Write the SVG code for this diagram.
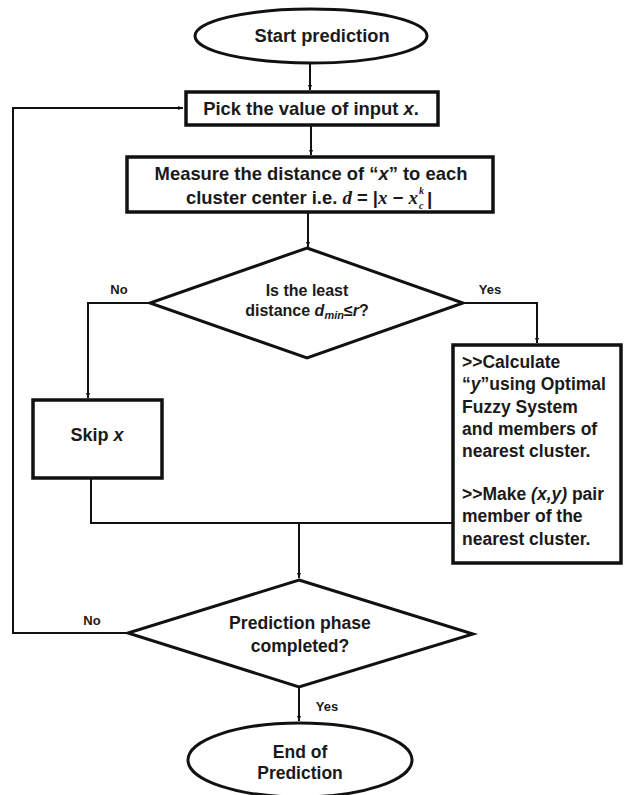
<svg xmlns="http://www.w3.org/2000/svg" width="624" height="795" viewBox="0 0 624 795">
<defs>
<marker id="arr" viewBox="0 0 10 10" refX="10" refY="5" markerWidth="5" markerHeight="5" orient="auto" markerUnits="userSpaceOnUse">
<path d="M0,1 L10,5 L0,9 z" fill="#111"/>
</marker>
<style>
.box{fill:#fff;stroke:#111;stroke-width:3.5}
.shape{fill:#fff;stroke:#111;stroke-width:3}
.line{fill:none;stroke:#111;stroke-width:2}
.t{font-family:"Liberation Sans",Arial,sans-serif;font-weight:bold;fill:#1a1a1a}
.c{text-anchor:middle}
.m{font-family:"Liberation Serif","Times New Roman",serif;font-style:italic;font-weight:bold;fill:#1a1a1a}
.lbl{font-size:13px}
</style>
</defs>
<rect width="624" height="795" fill="#fff"/>
<g id="connectors">
<path class="line" d="M310,63 V90" marker-end="url(#arr)"/>
<path class="line" d="M311,125 V155" marker-end="url(#arr)"/>
<path class="line" d="M308,212 V247" marker-end="url(#arr)"/>
<path class="line" d="M150,303 H88 V398" marker-end="url(#arr)"/>
<path class="line" d="M463,303 H537 V343" marker-end="url(#arr)"/>
<path class="line" d="M91,478 V523 H452"/>
<path class="line" d="M299,523 V578" marker-end="url(#arr)"/>
<path class="line" d="M128,633 H13 V108 H183" marker-end="url(#arr)"/>
<path class="line" d="M299,687 V721" marker-end="url(#arr)"/>
</g>
<g id="start">
<ellipse class="shape" cx="311" cy="36" rx="116" ry="27"/>
<text class="t c" x="322" y="42" font-size="18.3">Start prediction</text>
</g>
<g id="pick">
<rect class="box" x="186" y="92" width="252" height="33"/>
<text class="t c" x="311" y="115" font-size="18.4">Pick the value of input <tspan font-style="italic">x</tspan>.</text>
</g>
<g id="measure">
<rect class="box" x="127" y="157" width="366" height="55"/>
<text class="t c" x="311" y="180" font-size="18.4">Measure the distance of “<tspan font-style="italic">x</tspan>” to each</text>
<text class="t" x="186" y="204" font-size="18.4">cluster center i.e. <tspan class="m" font-size="19">d</tspan> = |<tspan class="m" font-size="19">x</tspan> − <tspan class="m" font-size="19">x</tspan></text>
<text class="m" x="419" y="194" font-size="10">k</text>
<text class="m" x="419" y="209" font-size="10">c</text>
<text class="t" x="427" y="205" font-size="19">|</text>
</g>
<g id="decision1">
<polygon class="shape" points="307,248 463,303 307,358 150,303"/>
<text class="t c" x="307" y="296" font-size="16">Is the least</text>
<text class="t c" x="307" y="316" font-size="16">distance <tspan font-style="italic">d</tspan><tspan font-style="italic" font-size="11" dy="3">min</tspan><tspan dy="-3">≤</tspan><tspan font-style="italic">r</tspan>?</text>
<text class="t c lbl" x="119" y="294">No</text>
<text class="t c lbl" x="490" y="294">Yes</text>
</g>
<g id="skip">
<rect class="box" x="33" y="400" width="129" height="78"/>
<text class="t c" x="97" y="441" font-size="18">Skip <tspan font-style="italic">x</tspan></text>
</g>
<g id="calculate">
<rect class="box" x="453" y="345" width="168" height="218"/>
<text class="t" font-size="17.5">
<tspan x="462" y="368">&gt;&gt;Calculate</tspan>
<tspan x="462" y="390">“<tspan font-style="italic">y</tspan>”using Optimal</tspan>
<tspan x="462" y="413">Fuzzy System</tspan>
<tspan x="462" y="435">and members of</tspan>
<tspan x="462" y="457">nearest cluster.</tspan>
<tspan x="462" y="500">&gt;&gt;Make <tspan font-style="italic">(x,y)</tspan> pair</tspan>
<tspan x="462" y="522">member of the</tspan>
<tspan x="462" y="545">nearest cluster.</tspan>
</text>
</g>
<g id="decision2">
<polygon class="shape" points="299,580 473,634 299,687 128,633"/>
<text class="t c" x="300" y="629" font-size="17.6">Prediction phase</text>
<text class="t c" x="300" y="652" font-size="17.6">completed?</text>
<text class="t c lbl" x="92" y="625">No</text>
<text class="t c lbl" x="327" y="711">Yes</text>
</g>
<g id="end">
<ellipse class="shape" cx="300" cy="760" rx="112" ry="37"/>
<text class="t c" x="300" y="758" font-size="17.5">End of</text>
<text class="t c" x="300" y="779" font-size="17.5">Prediction</text>
</g>
</svg>
